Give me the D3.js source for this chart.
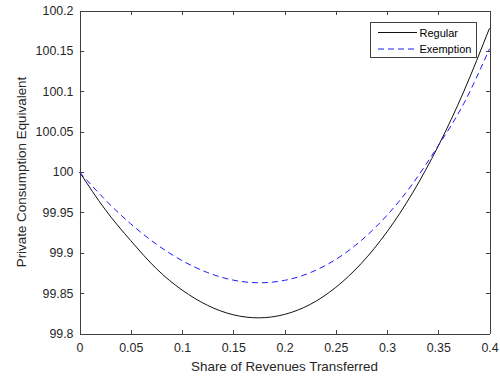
<!DOCTYPE html>
<html>
<head>
<meta charset="utf-8">
<script src="https://cdn.jsdelivr.net/npm/d3@7"></script>
<style>
  html, body { margin: 0; padding: 0; background: #fff; }
  svg { display: block; font-family: "Liberation Sans", Arial, sans-serif; }
  .axis path, .axis line { stroke: #404040; shape-rendering: crispEdges; }
  .axis text { fill: #262626; font-size: 12.4px; }
</style>
</head>
<body>
<svg id="chart" width="500" height="381"></svg>
<script>
// Share of revenues transferred (x) and private consumption equivalent for each scheme
const shares = [0, 0.025, 0.05, 0.075, 0.1, 0.125, 0.15, 0.175, 0.2,
                0.225, 0.25, 0.275, 0.3, 0.325, 0.35, 0.375, 0.4];
const regular = [100, 99.9536, 99.915, 99.8803, 99.8539, 99.8348, 99.8232, 99.8194, 99.8236,
                 99.836, 99.8571, 99.8869, 99.9259, 99.9742, 100.0322, 100.1, 100.178];
const exemption = [100, 99.9657, 99.9358, 99.9106, 99.8903, 99.8754, 99.8661, 99.8628, 99.8658,
                   99.8753, 99.8917, 99.9153, 99.9464, 99.9854, 100.0326, 100.085, 100.1526];
const xTicks = [0, 0.05, 0.1, 0.15, 0.2, 0.25, 0.3, 0.35, 0.4];
const yTicks = [99.8, 99.85, 99.9, 99.95, 100, 100.05, 100.1, 100.15, 100.2];
const seriesNames = ["Regular", "Exemption"];

const svg = d3.select("#chart");
const plotLeft = 79.5, plotRight = 489.5, plotTop = 10.5, plotBottom = 333.5;

const x = d3.scaleLinear().domain([0, 0.4]).range([plotLeft, plotRight]);
const y = d3.scaleLinear().domain([99.8, 100.2]).range([plotBottom, plotTop]);

// Bottom and top axes (ticks point inward)
svg.append("g").attr("class", "axis")
  .attr("transform", `translate(0,${plotBottom})`)
  .call(d3.axisBottom(x).tickValues(xTicks).tickFormat(d3.format("")).tickSizeInner(-4).tickSizeOuter(0).tickPadding(10));
svg.append("g").attr("class", "axis")
  .attr("transform", `translate(0,${plotTop})`)
  .call(d3.axisTop(x).tickValues(xTicks).tickFormat("").tickSizeInner(-4).tickSizeOuter(0));

// Left and right axes
svg.append("g").attr("class", "axis")
  .attr("transform", `translate(${plotLeft},0)`)
  .call(d3.axisLeft(y).tickValues(yTicks).tickFormat(d3.format("")).tickSizeInner(-4).tickSizeOuter(0).tickPadding(6));
svg.append("g").attr("class", "axis")
  .attr("transform", `translate(${plotRight},0)`)
  .call(d3.axisRight(y).tickValues(yTicks).tickFormat("").tickSizeInner(-4).tickSizeOuter(0));

// Curves
const line = d3.line().curve(d3.curveNatural);
const plot = svg.append("g");
plot.append("path")
  .attr("d", line(shares.map((s, i) => [x(s), y(regular[i])])))
  .attr("fill", "none").attr("stroke", "#111").attr("stroke-width", 1);
plot.append("path")
  .attr("d", line(shares.map((s, i) => [x(s), y(exemption[i])])))
  .attr("fill", "none").attr("stroke", "#1a1aff").attr("stroke-width", 1)
  .attr("stroke-dasharray", "6,4");

// Axis titles
svg.append("text")
  .attr("x", (plotLeft + plotRight) / 2).attr("y", 371)
  .attr("text-anchor", "middle").attr("font-size", "13.4px").attr("fill", "#262626")
  .text("Share of Revenues Transferred");
svg.append("text")
  .attr("transform", `translate(25.5,${(plotTop + plotBottom) / 2}) rotate(-90)`)
  .attr("text-anchor", "middle").attr("font-size", "13.4px").attr("fill", "#262626")
  .text("Private Consumption Equivalent");

// Legend
const legend = svg.append("g");
legend.append("rect")
  .attr("x", 370.5).attr("y", 22.5).attr("width", 106).attr("height", 35)
  .attr("fill", "#fff").attr("stroke", "#404040").attr("stroke-width", 1)
  .attr("shape-rendering", "crispEdges");
const styles = [
  { stroke: "#111", dash: null },
  { stroke: "#1a1aff", dash: "6,4" }
];
seriesNames.forEach((name, i) => {
  const ly = 32.5 + i * 16.5;
  legend.append("line")
    .attr("x1", 378).attr("x2", 417).attr("y1", ly).attr("y2", ly)
    .attr("stroke", styles[i].stroke).attr("stroke-width", 1)
    .attr("stroke-dasharray", styles[i].dash);
  legend.append("text")
    .attr("x", 419.5).attr("y", ly + 4)
    .attr("font-size", "11px").attr("fill", "#000")
    .text(name);
});
</script>
</body>
</html>
